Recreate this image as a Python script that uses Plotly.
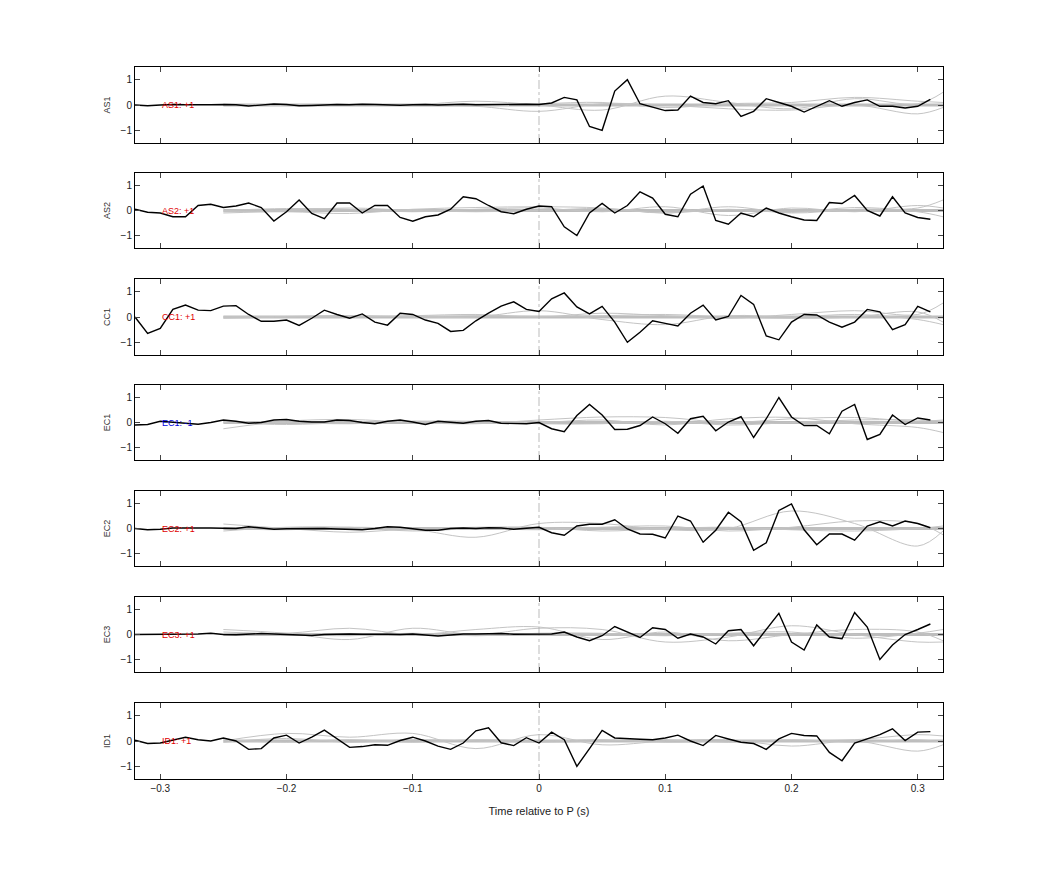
import plotly.graph_objects as go

t = [round(-0.32 + 0.01 * i, 2) for i in range(64)]
channels = ["AS1", "AS2", "CC1", "EC1", "EC2", "EC3", "ID1"]
labels = ["AS1: +1", "AS2: +1", "CC1: +1", "EC1: -1", "EC2: +1", "EC3: +1", "ID1: +1"]
label_colors = ["#e00000", "#e00000", "#e00000", "#0000e0", "#e00000", "#e00000", "#e00000"]

as1 = [0.0, -0.03, 0.0, 0.02, 0.01, 0.0, 0.01, 0.02, 0.01, -0.04, -0.01, 0.04, 0.02, -0.03, -0.02, 0.0, 0.02, 0.01, 0.03, 0.02, 0.0, -0.01, 0.01, 0.02, 0.0, 0.02, 0.03, 0.01, 0.02, 0.03, 0.02, 0.03,
       0.02, 0.08, 0.3, 0.2, -0.85, -1.0, 0.55, 1.0, 0.05, -0.07, -0.22, -0.2, 0.35, 0.1, 0.05, 0.17, -0.45, -0.25, 0.25, 0.1, -0.05, -0.28, -0.05, 0.17, -0.05, 0.1, 0.2, -0.05, -0.05, -0.12, -0.05, 0.22]
as2 = [0.05, -0.07, -0.1, -0.25, -0.25, 0.2, 0.25, 0.12, 0.18, 0.3, 0.12, -0.42, -0.05, 0.42, -0.12, -0.33, 0.3, 0.3, -0.1, 0.2, 0.2, -0.28, -0.43, -0.25, -0.18, 0.05, 0.55, 0.47, 0.2, -0.05, -0.13, 0.05,
       0.18, 0.15, -0.65, -1.0, -0.1, 0.28, -0.1, 0.2, 0.75, 0.5, -0.15, -0.25, 0.65, 0.98, -0.4, -0.55, -0.1, -0.25, 0.1, -0.1, -0.25, -0.38, -0.4, 0.32, 0.28, 0.6, 0.0, -0.22, 0.55, -0.1, -0.28, -0.35]
cc1 = [0.0, -0.65, -0.45, 0.3, 0.47, 0.27, 0.25, 0.43, 0.45, 0.1, -0.17, -0.17, -0.12, -0.33, -0.05, 0.27, 0.1, -0.05, 0.12, -0.2, -0.32, 0.15, 0.1, -0.12, -0.25, -0.57, -0.53, -0.15, 0.15, 0.43, 0.6, 0.3,
       0.22, 0.72, 0.95, 0.4, 0.12, 0.42, -0.2, -1.0, -0.6, -0.15, -0.25, -0.35, 0.15, 0.47, -0.12, 0.02, 0.85, 0.5, -0.75, -0.9, -0.2, 0.1, 0.08, -0.2, -0.4, -0.2, 0.3, 0.2, -0.5, -0.3, 0.42, 0.2]
ec1 = [-0.1, -0.08, 0.05, 0.0, -0.02, -0.07, 0.0, 0.1, 0.05, -0.03, 0.0, 0.1, 0.12, 0.05, 0.02, 0.02, 0.1, 0.08, 0.0, -0.05, 0.05, 0.1, 0.02, -0.08, 0.05, 0.0, -0.03, 0.05, 0.08, -0.03, -0.05, -0.05,
       0.0, -0.25, -0.37, 0.28, 0.72, 0.3, -0.28, -0.27, -0.12, 0.22, -0.05, -0.43, 0.15, 0.25, -0.33, 0.02, 0.23, -0.6, 0.15, 1.0, 0.22, -0.12, -0.12, -0.45, 0.45, 0.72, -0.68, -0.48, 0.3, -0.08, 0.18, 0.1]
ec2 = [0.0, -0.05, -0.03, 0.02, 0.02, 0.03, 0.02, 0.01, 0.0, 0.07, 0.03, -0.03, -0.01, 0.0, 0.02, 0.0, -0.02, -0.03, -0.05, 0.0, 0.07, 0.05, 0.0, -0.07, -0.07, 0.0, 0.02, 0.0, 0.03, 0.02, -0.03, 0.0,
       0.05, -0.17, -0.27, 0.1, 0.17, 0.17, 0.35, -0.02, -0.22, -0.23, -0.38, 0.5, 0.3, -0.55, -0.07, 0.65, 0.27, -0.87, -0.57, 0.72, 0.98, -0.05, -0.65, -0.22, -0.22, -0.47, 0.1, 0.27, 0.1, 0.3, 0.2, 0.03]
ec3 = [0.0, 0.0, 0.01, 0.02, 0.0, 0.02, 0.05, 0.0, -0.01, 0.02, 0.04, 0.02, 0.0, -0.02, -0.04, 0.0, 0.02, 0.02, 0.01, 0.02, 0.01, 0.0, 0.02, -0.02, -0.06, -0.02, 0.02, 0.02, 0.03, 0.04, 0.01, 0.02,
       0.02, 0.02, 0.1, -0.1, -0.25, -0.05, 0.32, 0.1, -0.12, 0.27, 0.2, -0.15, 0.02, -0.1, -0.38, 0.15, 0.2, -0.45, 0.2, 0.85, -0.3, -0.62, 0.38, -0.1, -0.17, 0.88, 0.3, -1.0, -0.42, 0.0, 0.2, 0.42]
id1 = [0.03, -0.1, -0.08, 0.05, 0.15, 0.05, 0.0, 0.12, 0.0, -0.33, -0.3, 0.12, 0.23, -0.08, 0.15, 0.43, 0.1, -0.25, -0.22, -0.15, -0.17, 0.02, 0.15, 0.0, -0.2, -0.33, -0.08, 0.4, 0.52, -0.07, -0.18, 0.13,
       -0.08, 0.35, 0.05, -1.0, -0.3, 0.42, 0.12, 0.08, 0.07, 0.05, 0.12, 0.23, 0.0, -0.18, 0.22, 0.08, -0.05, -0.1, -0.33, 0.08, 0.3, 0.22, 0.2, -0.45, -0.78, -0.08, 0.08, 0.25, 0.48, 0.02, 0.35, 0.37]
series = [as1, as2, cc1, ec1, ec2, ec3, id1]

# grey model traces (smoothed), sampled on a coarse grid
tg = [-0.25, -0.2, -0.15, -0.1, -0.05, 0.0, 0.05, 0.1, 0.15, 0.2, 0.25, 0.3, 0.32]
greys = [
    [[0, 0.0, -0.02, 0.0, 0.15, 0.0, -0.2, 0.35, 0.1, -0.15, 0.25, 0.05, 0.5],
     [0, -0.02, 0.0, -0.03, -0.05, -0.25, 0.05, 0.0, -0.15, -0.2, 0.0, -0.35, -0.1],
     [0, 0.02, 0.0, 0.02, 0.0, 0.05, 0.1, -0.1, 0.05, 0.1, 0.3, 0.15, 0.1]],
    [[-0.1, -0.05, -0.12, 0.05, 0.12, 0.15, 0.1, -0.1, 0.15, -0.1, 0.05, 0.1, 0.42],
     [0.0, 0.08, 0.05, -0.05, 0.05, 0.1, -0.05, 0.15, -0.2, 0.1, -0.05, 0.2, 0.1],
     [-0.05, 0.0, 0.1, 0.0, -0.05, 0.0, 0.08, -0.1, 0.05, -0.08, 0.12, -0.05, -0.25]],
    [[0.0, 0.02, 0.05, 0.0, 0.0, 0.25, -0.1, -0.3, 0.05, 0.0, 0.1, -0.1, -0.3],
     [0.0, 0.0, 0.0, 0.05, 0.1, 0.0, 0.15, 0.05, -0.05, 0.1, 0.25, 0.1, 0.55],
     [-0.05, 0.0, 0.05, 0.0, 0.05, 0.02, 0.05, 0.1, 0.0, -0.05, 0.0, 0.2, -0.2]],
    [[-0.25, 0.05, 0.12, 0.0, -0.05, 0.1, 0.22, 0.2, 0.0, 0.15, 0.2, 0.05, 0.1],
     [0.0, -0.08, 0.0, 0.05, 0.0, 0.0, 0.1, -0.1, 0.15, 0.2, -0.05, -0.2, -0.4],
     [0.05, 0.0, -0.05, 0.05, 0.05, -0.05, -0.05, 0.05, -0.1, 0.0, 0.1, 0.1, 0.05]],
    [[0.18, 0.0, -0.15, -0.05, -0.35, 0.2, 0.2, -0.05, 0.0, 0.7, 0.2, -0.7, -0.1],
     [-0.1, 0.05, 0.05, -0.1, 0.0, -0.05, 0.05, 0.1, -0.1, 0.05, 0.3, 0.2, -0.25],
     [0.0, -0.05, 0.05, 0.0, 0.05, 0.05, -0.1, 0.0, 0.05, -0.05, -0.1, 0.0, 0.1]],
    [[0.2, 0.05, -0.2, 0.25, 0.0, 0.25, 0.2, -0.3, -0.1, 0.35, 0.0, -0.3, -0.3],
     [0.1, 0.05, 0.25, 0.0, 0.2, 0.3, -0.2, 0.1, -0.25, 0.0, 0.2, 0.1, -0.25],
     [0.0, 0.0, -0.05, 0.05, -0.05, 0.05, 0.05, -0.05, 0.05, 0.1, -0.15, 0.05, 0.2]],
    [[0.0, 0.3, 0.15, 0.3, -0.3, 0.25, -0.15, 0.0, 0.05, -0.2, 0.0, -0.4, -0.15],
     [0.05, -0.05, 0.05, -0.05, 0.05, 0.0, 0.05, -0.05, 0.0, 0.0, 0.05, 0.25, 0.2],
     [-0.05, 0.1, -0.05, 0.05, 0.0, -0.05, 0.0, 0.05, -0.05, 0.05, -0.05, 0.05, -0.05]],
]
flat_x = [-0.25, 0.32]
flat_y = [0.0, 0.0]

OFF = 8
ypx = [(67, 143), (173, 248), (279, 355), (385, 460), (491, 566), (597, 672), (703, 779)]
H, W = 875, 1042
x0, x1 = (135 - OFF) / W, (943 - OFF) / W

fig = go.Figure()
font = "Liberation Sans, Arial, sans-serif"
for i, ch in enumerate(channels):
    n = i + 1
    xa = "x" if n == 1 else f"x{n}"
    ya = "y" if n == 1 else f"y{n}"
    fig.add_trace(go.Scatter(x=flat_x, y=flat_y, mode="lines", line=dict(color="#bdbdbd", width=3), xaxis=xa, yaxis=ya, showlegend=False))
    for g in greys[i]:
        fig.add_trace(go.Scatter(x=tg, y=g, mode="lines", line=dict(color="#c4c4c4", width=1, shape="spline", smoothing=1.0), xaxis=xa, yaxis=ya, showlegend=False))
    fig.add_trace(go.Scatter(x=[0, 0], y=[-1.5, 1.5], mode="lines", line=dict(color="#aaaaaa", width=0.8, dash="dashdot"), xaxis=xa, yaxis=ya, showlegend=False))
    fig.add_trace(go.Scatter(x=t, y=series[i], mode="lines", line=dict(color="black", width=1.4), xaxis=xa, yaxis=ya, showlegend=False))
    top, bot = ypx[i]
    fig.layout[f"xaxis{'' if n == 1 else n}"] = dict(
        domain=[x0, x1], anchor=ya, range=[-0.32, 0.32], tickvals=[-0.3, -0.2, -0.1, 0, 0.1, 0.2, 0.3],
        ticks="inside", ticklen=5, mirror="ticks", showline=True, linecolor="black", linewidth=1,
        showgrid=False, zeroline=False, showticklabels=(n == 7),
        tickfont=dict(size=10, color="#222", family=font))
    fig.layout[f"yaxis{'' if n == 1 else n}"] = dict(
        domain=[1 - (bot - OFF) / H, 1 - (top - OFF) / H], anchor=xa, range=[-1.5, 1.5], tickvals=[-1, 0, 1],
        ticks="inside", ticklen=5, mirror="ticks", showline=True, linecolor="black", linewidth=1,
        showgrid=False, zeroline=False, tickfont=dict(size=10, color="#222", family=font),
        title=dict(text=ch, font=dict(size=9, color="#333", family=font), standoff=8))
    fig.add_annotation(x=-0.3, y=0, xref=xa, yref=ya, text=labels[i], showarrow=False, xanchor="left",
                       font=dict(size=9, color=label_colors[i], family=font))

fig.layout.xaxis7.title = dict(text="Time relative to P (s)", font=dict(size=11, color="#222", family=font), standoff=14)
fig.update_layout(width=W, height=H, margin=dict(l=0, r=0, t=0, b=0), plot_bgcolor="white", paper_bgcolor="white")
fig.write_html("out.html")
